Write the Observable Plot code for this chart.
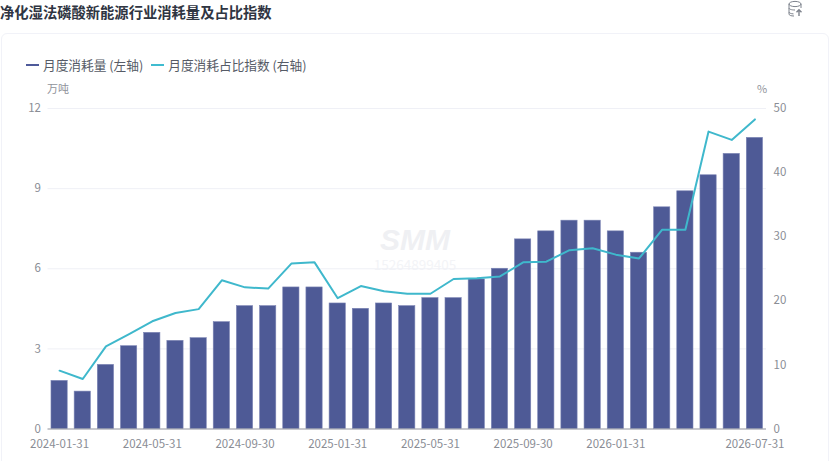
<!DOCTYPE html>
<html><head><meta charset="utf-8">
<script src="https://cdn.jsdelivr.net/npm/d3@7"></script>
<script src="https://cdn.jsdelivr.net/npm/@observablehq/plot@0.6"></script>
<style>
html,body{margin:0;padding:0;background:#fff;overflow:hidden}
body{width:831px;height:461px;position:relative;font-family:"Noto Sans CJK SC","Noto Sans",sans-serif}
#title{position:absolute;left:0;top:2px;font-size:14.3px;font-weight:700;color:#2f3542;line-height:20px;white-space:nowrap}
#card{position:absolute;left:1px;top:33px;width:828px;height:440px;border:1px solid #f1f2f8;border-radius:6px;box-sizing:border-box}
#legend{position:absolute;left:26px;top:56px;display:flex;font-size:12.7px;color:#565b66;line-height:18px;white-space:nowrap}
.it{display:flex;align-items:center;margin-right:8px}
.sw{display:inline-block;width:13px;height:2px;margin-right:4px}
.u{position:absolute;font-size:11px;color:#8f929a;top:81px;line-height:14px}
#wm{position:absolute;left:344px;top:224px;width:150px;text-align:center;color:#eff0f3}
#wm b{display:block;font:italic 900 30px/32px "Liberation Sans",sans-serif;margin-left:-8px}
#wm span{display:block;font-size:13.5px;line-height:16px;color:#f3f4f7;margin-left:-8px}
#chart{position:absolute;left:0;top:80px}
#icon{position:absolute;left:787px;top:0}
</style></head><body>
<div id="card"></div>
<div id="title">净化湿法磷酸新能源行业消耗量及占比指数</div>
<svg id="icon" width="20" height="18" viewBox="0 0 20 18" fill="none" stroke="#7d828c" stroke-width="1">
<ellipse cx="8" cy="4" rx="6" ry="2.6"/><path d="M2 4v10c0 1.3 2 2 5 2M14 4v4M2 8c0 1.2 2.5 2 6 2M2 12c0 1 2 1.8 4.5 1.9"/><path d="M12 16v-6M9.5 12.3 12 9.8l2.5 2.5" stroke-width="1.4"/></svg>
<div id="legend">
<div class="it"><span class="sw" style="background:#4e5a9a"></span>月度消耗量 (左轴)</div>
<div class="it"><span class="sw" style="background:#3fbcd0"></span>月度消耗占比指数 (右轴)</div>
</div>
<div class="u" style="left:47px">万吨</div>
<div class="u" style="left:757px">%</div>
<div id="wm"><b>SMM</b><span>15264899405</span></div>
<div id="chart"></div>
<script>
const months = ["2024-01-31","2024-02-29","2024-03-31","2024-04-30","2024-05-31","2024-06-30","2024-07-31","2024-08-31","2024-09-30","2024-10-31","2024-11-30","2024-12-31","2025-01-31","2025-02-28","2025-03-31","2025-04-30","2025-05-31","2025-06-30","2025-07-31","2025-08-31","2025-09-30","2025-10-31","2025-11-30","2025-12-31","2026-01-31","2026-02-28","2026-03-31","2026-04-30","2026-05-31","2026-06-30","2026-07-31"];
const consumption = [1.8,1.4,2.4,3.1,3.6,3.3,3.4,4.0,4.6,4.6,5.3,5.3,4.7,4.5,4.7,4.6,4.9,4.9,5.6,6.0,7.1,7.4,7.8,7.8,7.4,6.6,8.3,8.9,9.5,10.3,10.9];
const shareIndex = [9.1,7.8,12.9,14.8,16.8,18.1,18.7,23.2,22.1,21.9,25.8,26.0,20.4,22.3,21.5,21.1,21.1,23.4,23.5,23.8,26.0,26.1,27.9,28.2,27.2,26.6,31.1,31.1,46.4,45.1,48.3];
const xTicks = ["2024-01-31","2024-05-31","2024-09-30","2025-01-31","2025-05-31","2025-09-30","2026-01-31","2026-07-31"];
const leftTicks = [0,3,6,9,12];
const rightTicks = [0,10,20,30,40,50];
const leftMax = 12, rightMax = 50;
const toLeft = v => v * leftMax / rightMax;
const rows = months.map((m,i)=>({m,c:consumption[i],s:toLeft(shareIndex[i])}));
const fontFamily = '"Noto Sans CJK SC","Noto Sans",sans-serif';
const axisColor = "#8a8d95";
const chart = Plot.plot({
  width:831, height:381, marginTop:28, marginBottom:32.5, marginLeft:47.5, marginRight:65,
  style:{fontFamily,fontSize:"11.5px",background:"transparent",overflow:"visible"},
  x:{type:"band",domain:months,paddingInner:0.3,paddingOuter:0.15,round:false,label:null},
  y:{domain:[0,leftMax],label:null},
  marks:[
    Plot.ruleY(leftTicks.slice(1),{stroke:"#eff0f6",strokeWidth:1}),
    Plot.barY(rows,{x:"m",y:"c",fill:"#4e5a96",stroke:"#7b84b4",strokeWidth:0.6}),
    Plot.ruleY([0],{stroke:"#8f929b",strokeWidth:1.2}),
    Plot.lineY(rows,{x:"m",y:"s",stroke:"#3fb8cc",strokeWidth:2,curve:"linear"}),
    Plot.axisX({ticks:xTicks,tickSize:0,tickPadding:11,color:axisColor,label:null,fontSize:11.5}),
    Plot.axisY({ticks:leftTicks,anchor:"left",tickSize:0,tickPadding:7,color:axisColor,label:null,fontSize:11.5}),
    Plot.axisY({ticks:rightTicks.map(toLeft),anchor:"right",tickSize:0,tickPadding:7,color:axisColor,label:null,fontSize:11.5,tickFormat:v=>String(Math.round(v*rightMax/leftMax))})
  ]
});
document.getElementById("chart").append(chart);
</script>
</body></html>
